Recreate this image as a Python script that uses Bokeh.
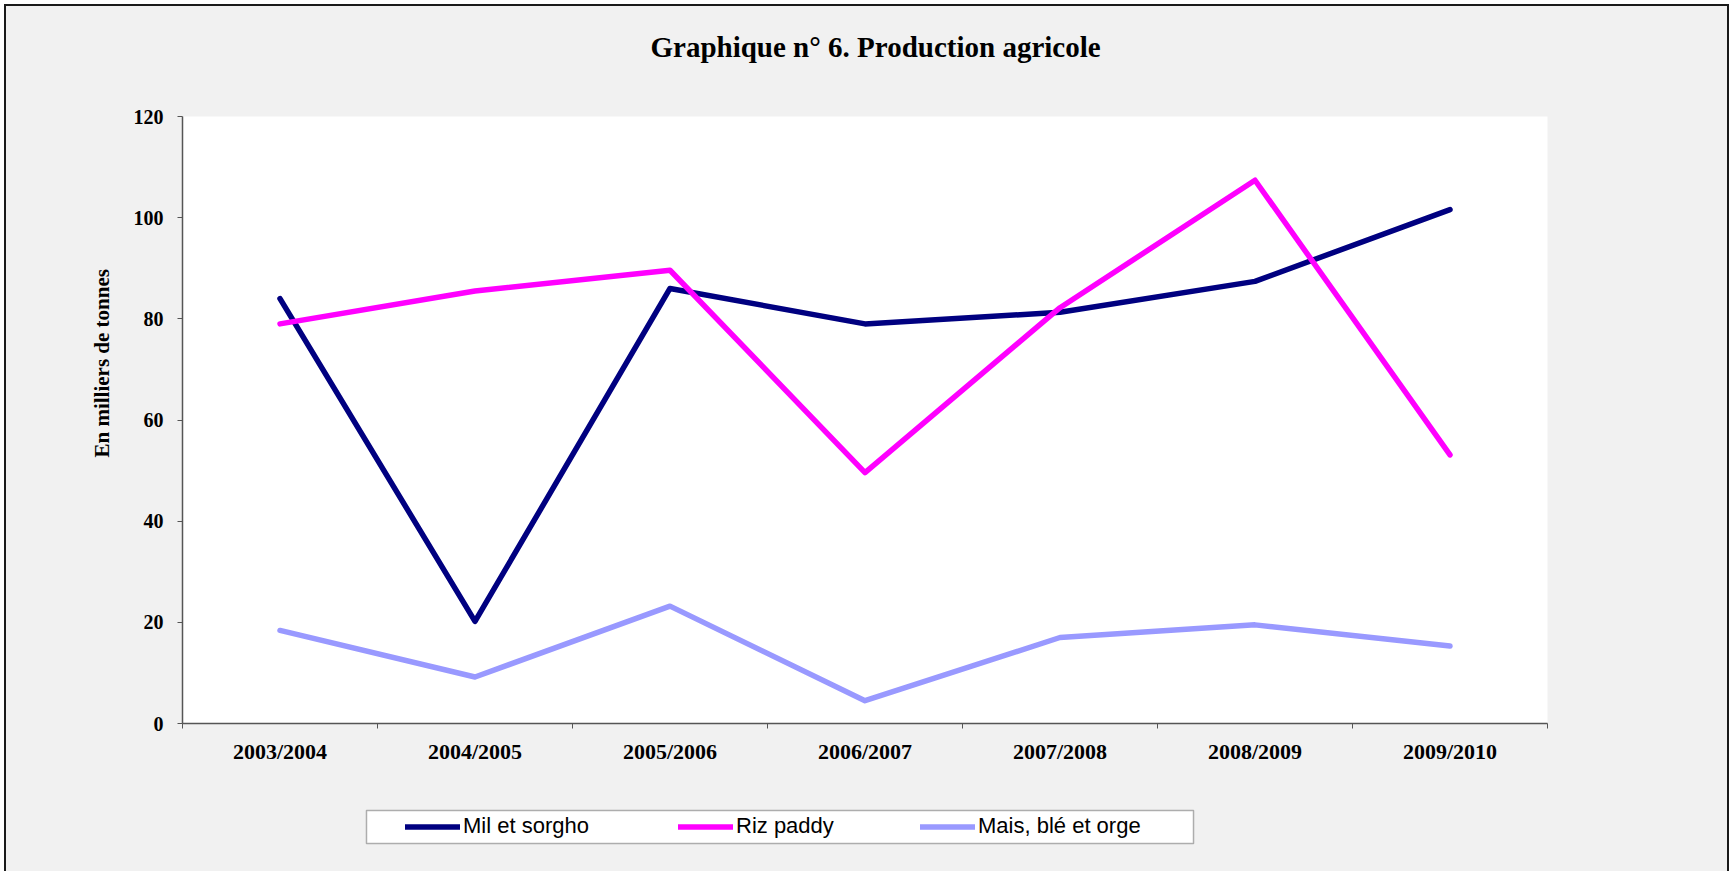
from bokeh.plotting import figure
from bokeh.layouts import column
from bokeh.models import (Range1d, FixedTicker, Legend, LegendItem, Title,
                          ColumnDataSource, BoxAnnotation)
from bokeh.embed import file_html
from bokeh.resources import INLINE

# ---- data ----
seasons = ["2003/2004", "2004/2005", "2005/2006", "2006/2007",
           "2007/2008", "2008/2009", "2009/2010"]
mil_sorgho = [84.0, 20.2, 86.0, 79.0, 81.3, 87.4, 101.6]
riz_paddy = [79.0, 85.5, 89.6, 49.6, 82.2, 107.4, 53.1]
mais_ble_orge = [18.4, 9.2, 23.2, 4.5, 17.0, 19.5, 15.3]
y_ticks = [0, 20, 40, 60, 80, 100, 120]
series_names = ["Mil et sorgho", "Riz paddy", "Mais, blé et orge"]
series_colors = ["#000080", "#FF00FF", "#9999FF"]
title_text = "Graphique n° 6. Production agricole"
y_label_text = "En milliers de tonnes"

x_pos = [i + 0.5 for i in range(len(seasons))]
bounds = list(range(len(seasons) + 1))

BG = "#f1f1f1"
OUTER = 6                      # page offset of the framed chart
TOTAL_W = 1733 - 2 * OUTER     # 1721
TOTAL_H = 871 - OUTER          # 865
FL, FT, FW, FH = 176, 110, 1365, 607
FR = TOTAL_W - FL - FW
FB = 80
MAIN_H = FT + FH + FB
LEG_H = TOTAL_H - MAIN_H

p = figure(frame_width=FW, frame_height=FH, output_backend="svg", toolbar_location=None,
           x_range=Range1d(0, len(seasons)), y_range=Range1d(0, 120),
           min_border_left=FL, min_border_right=FR,
           min_border_top=FT, min_border_bottom=FB)
p.background_fill_color = "white"
p.border_fill_color = BG
p.outline_line_color = None
p.grid.visible = False

serif = "Liberation Serif"

# x axis: labels at centres, ticks at category boundaries
xa = p.xaxis[0]
xa.ticker = FixedTicker(ticks=x_pos, minor_ticks=bounds)
xa.major_label_overrides = {x: s for x, s in zip(x_pos, seasons)}
xa.major_tick_line_color = None
xa.major_tick_out = 0
xa.major_tick_in = 0
xa.minor_tick_out = 5
xa.minor_tick_in = 0
xa.minor_tick_line_color = "#555555"
xa.axis_line_color = "#555555"
xa.axis_line_width = 1.5
xa.major_label_text_font = serif
xa.major_label_text_font_style = "bold"
xa.major_label_text_font_size = "22px"
xa.major_label_text_color = "black"
xa.major_label_standoff = 10

ya = p.yaxis[0]
ya.ticker = FixedTicker(ticks=y_ticks)
ya.minor_tick_line_color = None
ya.major_tick_out = 5
ya.major_tick_in = 0
ya.major_tick_line_color = "#555555"
ya.axis_line_color = "#555555"
ya.axis_line_width = 1.5
ya.major_label_text_font = serif
ya.major_label_text_font_style = "bold"
ya.major_label_text_font_size = "20px"
ya.major_label_text_color = "black"
ya.major_label_standoff = 14

src = ColumnDataSource(dict(x=x_pos, mil=mil_sorgho, riz=riz_paddy, mais=mais_ble_orge))
for col, color in zip(["mil", "riz", "mais"], series_colors):
    p.line("x", col, source=src, line_color=color, line_width=5.5,
           line_join="round", line_cap="round")

# title (above); trailing blank line lifts it away from the frame
p.add_layout(Title(text=title_text + "\n", align="left", offset=468,
                   vertical_align="top", standoff=39,
                   text_font=serif, text_font_style="bold",
                   text_font_size="29px", text_color="black"), "above")

# y axis title (left panel)
p.add_layout(Title(text=y_label_text, align="left", offset=266,
                   vertical_align="bottom", standoff=33,
                   text_font=serif, text_font_style="bold",
                   text_font_size="21px", text_color="black"), "left")

# ---- legend strip (its frame is aligned with the main frame by the column) ----
lp = figure(width=TOTAL_W, height=LEG_H, output_backend="svg", toolbar_location=None,
            x_axis_location=None, y_axis_location=None, min_border=0,
            x_range=Range1d(0, FW), y_range=Range1d(0, LEG_H))
lp.background_fill_color = BG
lp.border_fill_color = BG
lp.outline_line_color = None
lp.grid.visible = False

# legend frame box (page x 366..1193, y 810..843)
top_page = OUTER + MAIN_H
lp.add_layout(BoxAnnotation(left=366 - OUTER - FL, right=1193 - OUTER - FL,
                            top=LEG_H - (810 - top_page), bottom=LEG_H - (843 - top_page),
                            fill_color="white", fill_alpha=1,
                            line_color="black", line_width=1.5, level="underlay"))

glyph_left_page = [405, 678, 920]
item_center = LEG_H - (826.5 - top_page)
for name, color, gx in zip(series_names, series_colors, glyph_left_page):
    r = lp.line(x=[-20, -10], y=[-20, -20], line_color=color, line_width=5.5,
                line_cap="round")
    leg = Legend(items=[LegendItem(label=name, renderers=[r])],
                 location=(gx - OUTER - FL, item_center - 12.5),
                 orientation="horizontal", margin=0, padding=0, spacing=0,
                 glyph_width=55, glyph_height=25, label_height=25,
                 label_standoff=3,
                 label_text_font="Liberation Sans", label_text_font_size="22px",
                 label_text_color="black",
                 border_line_color=None, background_fill_alpha=0)
    lp.add_layout(leg, "center")

layout = column(p, lp, spacing=0, margin=(OUTER, OUTER, 0, OUTER),
                styles={"box-shadow": "0 0 0 2px #1a1a1a",
                        "background-color": BG})

open("out.html", "w").write(file_html(layout, INLINE))
